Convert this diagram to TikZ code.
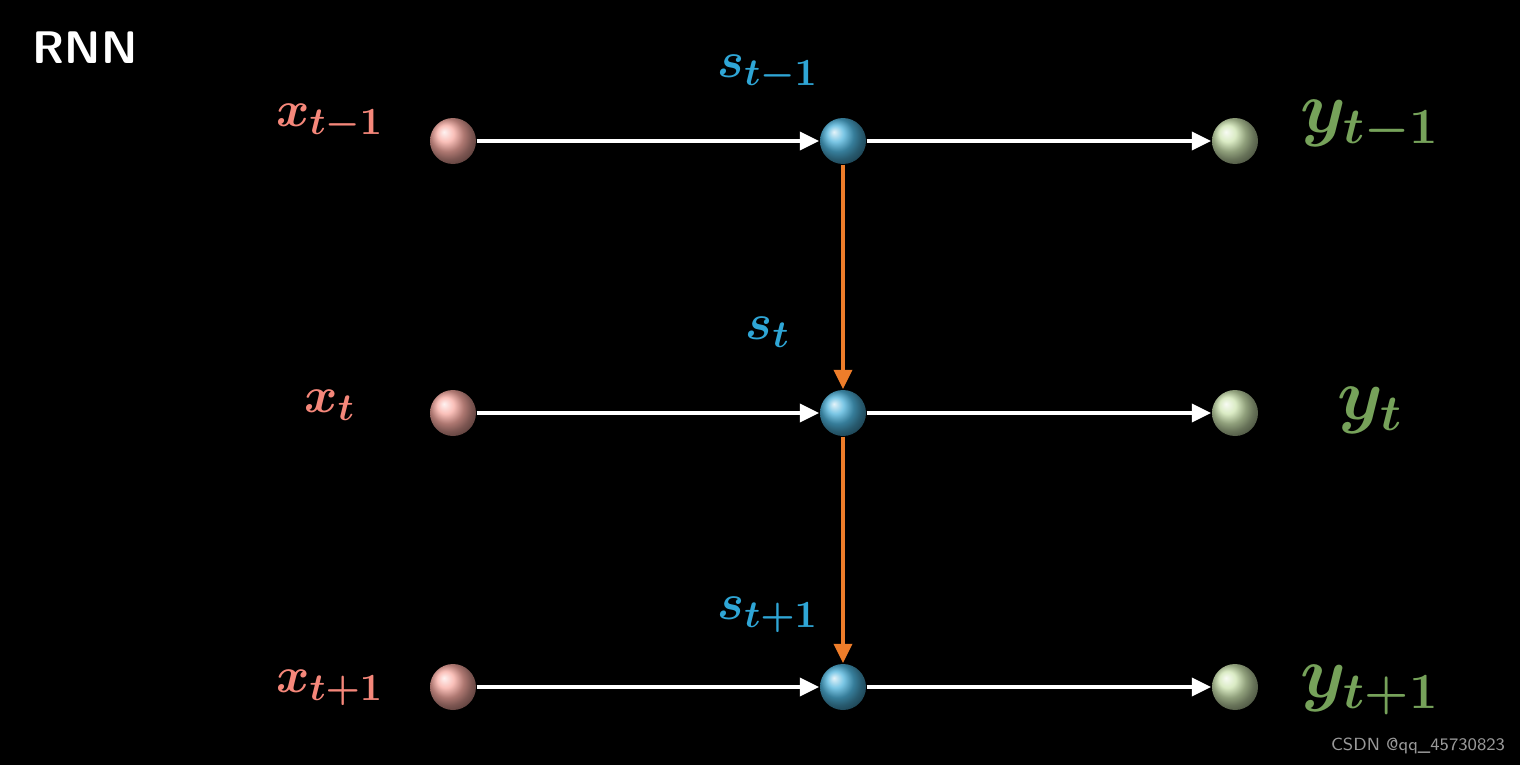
\documentclass[tikz,border=0pt]{standalone}
\usepackage{amsmath,amssymb}
\usepackage{tikz}
\usetikzlibrary{arrows.meta,positioning}

\definecolor{inred}{HTML}{F5877A}
\definecolor{stblue}{HTML}{2FA6D6}
\definecolor{outgreen}{HTML}{B9D98F}
\definecolor{ygreen}{HTML}{76A25A}
\definecolor{recorange}{HTML}{EE7D2A}

\begin{document}
\begin{tikzpicture}[>={Triangle[length=5.5pt,width=5pt]},
            ball/.style={circle, minimum size=0.46cm, inner sep=0pt, shading=ball},
            flow/.style={->, line width=1.3pt, white},
            rec/.style={->, line width=1.3pt, recorange},
            lbl/.style={font=\fontsize{15}{18}\selectfont\boldmath}]

        \fill[black] (0,0) rectangle (15.2,-7.65);
        \useasboundingbox (0,0) rectangle (15.2,-7.65);

        \node[white, font=\sffamily\bfseries\fontsize{13}{15}\selectfont] (title) at (0.85,-0.48) {RNN};

        \foreach \i/\y in {a/-1.41, b/-4.13, c/-6.87} {
            \node[ball, ball color=inred!70!white]    (x\i) at (4.53,\y)  {};
            \node[ball, ball color=stblue!85!white]   (s\i) at (8.43,\y)  {};
            \node[ball, ball color=outgreen!70!white] (y\i) at (12.35,\y) {};
            \draw[flow] (x\i) -- (s\i);
            \draw[flow] (s\i) -- (y\i);
        }

        \node[lbl, inred]  at (3.30,-1.22) {$x_{t-1}$};
        \node[lbl, inred]  at (3.30,-4.05) {$x_{t}$};
        \node[lbl, inred]  at (3.30,-6.88) {$x_{t+1}$};

        \node[lbl, stblue] at (7.68,-0.73) {$s_{t-1}$};
        \node[lbl, stblue] at (7.68,-3.32) {$s_{t}$};
        \node[lbl, stblue] at (7.68,-6.15) {$s_{t+1}$};

        \node[ygreen, font=\fontsize{21}{25}\selectfont\boldmath] at (13.70,-1.25) {$y_{t-1}$};
        \node[ygreen, font=\fontsize{21}{25}\selectfont\boldmath] at (13.70,-4.10) {$y_{t}$};
        \node[ygreen, font=\fontsize{21}{25}\selectfont\boldmath] at (13.70,-6.90) {$y_{t+1}$};

        \draw[rec] (sa) -- (sb);
        \draw[rec] (sb) -- (sc);

        \node[gray!80, font=\sffamily\fontsize{5}{6}\selectfont] (mark) at (14.18,-7.46) {CSDN @qq\_45730823};

    \end{tikzpicture}
\end{document}
